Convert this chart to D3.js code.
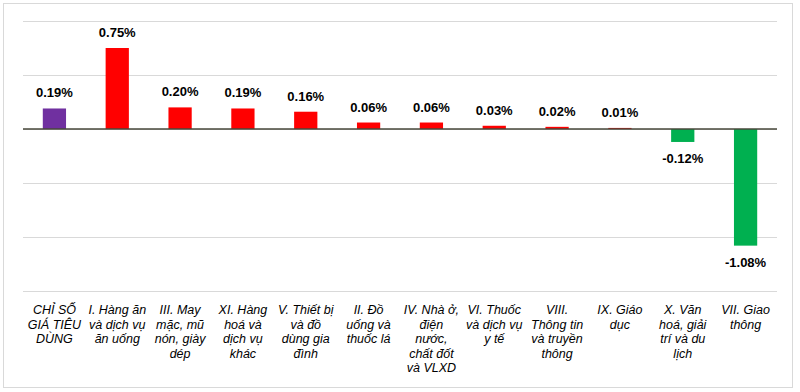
<!DOCTYPE html>
<html>
<head>
<meta charset="utf-8">
<script src="https://cdn.jsdelivr.net/npm/d3@7"></script>
<style>
  body { margin: 0; background: #fff; }
  svg { display: block; }
</style>
</head>
<body>
<svg id="chart" width="800" height="392"></svg>
<script>
// categories (already split into lines as in the picture)
var categories = [
  ["CHỈ SỐ", "GIÁ TIÊU", "DÙNG"],
  ["I. Hàng ăn", "và dịch vụ", "ăn uống"],
  ["III. May", "mặc, mũ", "nón, giày", "dép"],
  ["XI. Hàng", "hoá và", "dịch vụ", "khác"],
  ["V. Thiết bị", "và đồ", "dùng gia", "đình"],
  ["II. Đồ", "uống và", "thuốc lá"],
  ["IV. Nhà ở,", "điện", "nước,", "chất đốt", "và VLXD"],
  ["VI. Thuốc", "và dịch vụ", "y tế"],
  ["VIII.", "Thông tin", "và truyền", "thông"],
  ["IX. Giáo", "dục"],
  ["X. Văn", "hoá, giải", "trí và du", "lịch"],
  ["VII. Giao", "thông"]
];
var values = [0.19, 0.75, 0.20, 0.19, 0.16, 0.06, 0.06, 0.03, 0.02, 0.01, -0.12, -1.08];
var gridTicks = [-1.5, -1, -0.5, 0, 0.5, 1];

var svg = d3.select("#chart");

// outer frame
svg.append("rect")
    .attr("x", 3.5).attr("y", 3.5)
    .attr("width", 789).attr("height", 384)
    .attr("fill", "#fff")
    .attr("stroke", "#d9d9d9");

var margin = {top: 21, left: 23, right: 23},
    width = 800 - margin.left - margin.right,
    plotH = 270;

var g = svg.append("g")
    .attr("transform", "translate(" + margin.left + "," + margin.top + ")");

var x = d3.scaleBand()
    .domain(d3.range(values.length))
    .range([0, width])
    .paddingInner(0.63)
    .paddingOuter(0.315);

var y = d3.scaleLinear().domain([-1.5, 1]).range([plotH, 0]);

// gridlines
var grid = g.append("g")
    .call(d3.axisLeft(y).tickValues(gridTicks).tickSize(-width).tickFormat(""));
grid.select(".domain").remove();
grid.selectAll(".tick line").attr("stroke", "#d9d9d9").attr("stroke-width", 1.2);

// bars
g.selectAll("rect.bar")
    .data(values)
    .enter().append("rect")
    .attr("class", "bar")
    .attr("x", function(d, i) { return x(i); })
    .attr("width", x.bandwidth())
    .attr("y", function(d) { return y(Math.max(0, d)); })
    .attr("height", function(d) { return Math.abs(y(d) - y(0)); })
    .attr("fill", function(d, i) { return i === 0 ? "#7030a0" : (d < 0 ? "#00b050" : "#ff0000"); });

// zero line
g.append("line")
    .attr("x1", 0).attr("x2", width)
    .attr("y1", y(0)).attr("y2", y(0))
    .attr("stroke", "#47473a")
    .attr("stroke-width", 1.3);

// value labels
g.selectAll("text.val")
    .data(values)
    .enter().append("text")
    .attr("class", "val")
    .attr("x", function(d, i) { return x(i) + x.bandwidth() / 2; })
    .attr("y", function(d) { return d >= 0 ? y(d) - 11 : y(d) + 21; })
    .attr("text-anchor", "middle")
    .style("font-family", "'Liberation Sans', Arial, sans-serif")
    .style("font-weight", "bold")
    .style("font-size", "13px")
    .attr("fill", "#000")
    .text(function(d) { return d.toFixed(2) + "%"; });

// category labels
var cat = g.selectAll("text.cat")
    .data(categories)
    .enter().append("text")
    .attr("class", "cat")
    .attr("text-anchor", "middle")
    .style("font-family", "'Liberation Sans', Arial, sans-serif")
    .style("font-style", "italic")
    .style("font-size", "12.5px")
    .attr("fill", "#000");

cat.selectAll("tspan")
    .data(function(d, i) { return d.map(function(s) { return {s: s, i: i}; }); })
    .enter().append("tspan")
    .attr("x", function(d) { return x(d.i) + x.bandwidth() / 2; })
    .attr("y", function(d, j) { return 293 + j * 14.6; })
    .text(function(d) { return d.s; });
</script>
</body>
</html>
